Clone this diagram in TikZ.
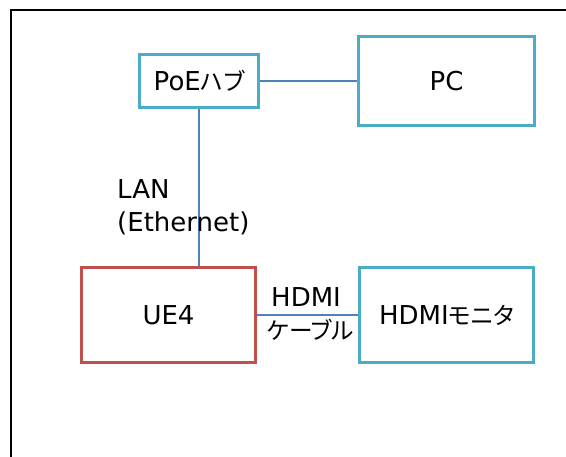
\documentclass[tikz,border=0pt]{standalone}
\usepackage{fontspec}
\setmainfont{DejaVu Sans}
\newfontfamily\jp[RawFeature=+palt, Scale=0.91]{Noto Sans CJK JP}
\definecolor{tealbox}{HTML}{4BACC6}
\definecolor{redbox}{HTML}{C0504D}
\definecolor{wire}{HTML}{4F81BD}
\tikzset{
  box/.style={draw=tealbox, line width=3pt, fill=white, inner sep=0pt, font=\fontsize{26}{30}\selectfont},
  redframe/.style={box, draw=redbox},
  conn/.style={draw=wire, line width=1.3pt},
  lbl/.style={anchor=base west, inner sep=0pt, font=\fontsize{26}{30}\selectfont},
}
\begin{document}
\begin{tikzpicture}[x=1pt,y=-1pt]
\useasboundingbox (0,0) rectangle (566,457);
\begin{scope}
\clip (0,0) rectangle (566,457);
\draw[black, line width=2pt] (11,470) -- (11,10) -- (580,10);
\end{scope}
\node[box, minimum width=119pt, minimum height=53pt] (poe) at (199,81) {PoE{\jp ハブ}};
\node[box, minimum width=176pt, minimum height=89pt] (pc) at (446.5,81) {PC};
\node[redframe, minimum width=174pt, minimum height=95pt] (ue) at (168.5,315) {UE4};
\node[box, minimum width=174pt, minimum height=95pt] (mon) at (446.5,315) {HDMI{\jp モニタ}};
\draw[conn] (poe.east) -- (pc.west);
\draw[conn] (poe.south) -- (poe.south |- ue.north);
\draw[conn] (ue.east) -- (mon.west);
\node[lbl] (lan1) at (117,199) {LAN};
\node[lbl] (lan2) at (117,232) {(Ethernet)};
\node[lbl] (hd1) at (271,307) {HDMI};
\node[lbl] (hd2) at (267,340) {\jp ケーブル};
\end{tikzpicture}
\end{document}
